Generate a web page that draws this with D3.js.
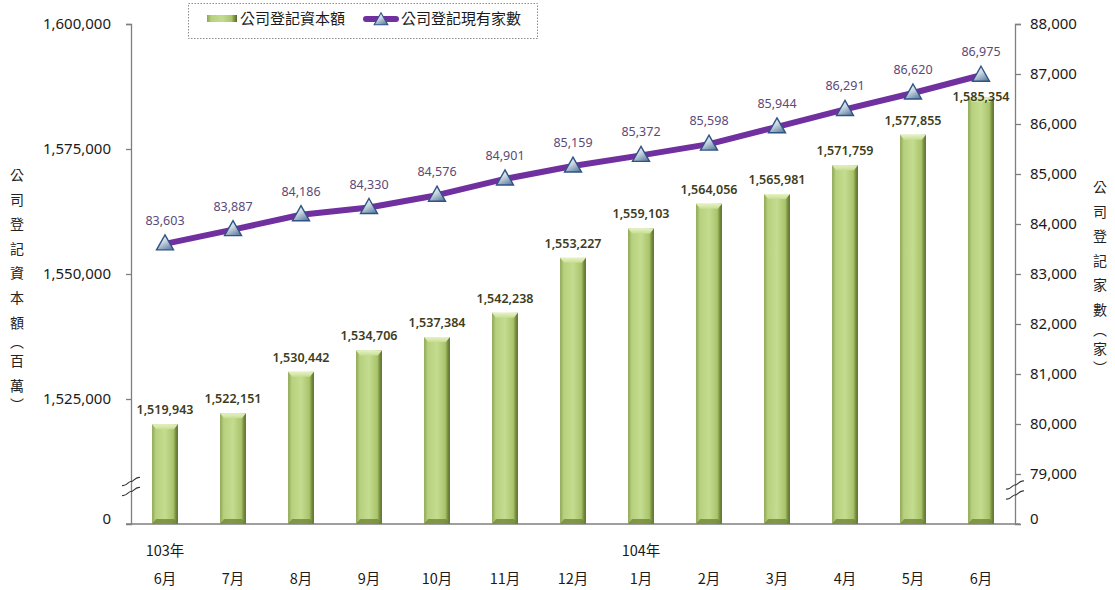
<!DOCTYPE html>
<html lang="zh-Hant">
<head>
<meta charset="utf-8">
<title>公司登記資本額與現有家數</title>
<script src="https://d3js.org/d3.v7.min.js"></script>
<style>
  body { margin: 0; background: #fff; }
  svg { display: block; font-family: "Noto Sans CJK TC", "Noto Sans", sans-serif; }
</style>
</head>
<body>
<div id="chart"></div>
<script>
// Data
const months = ["6月", "7月", "8月", "9月", "10月", "11月", "12月", "1月", "2月", "3月", "4月", "5月", "6月"];
const years = ["103年", "", "", "", "", "", "", "104年", "", "", "", "", ""];
const capital = [1519943, 1522151, 1530442, 1534706, 1537384, 1542238, 1553227, 1559103, 1564056, 1565981, 1571759, 1577855, 1585354];
const companies = [83603, 83887, 84186, 84330, 84576, 84901, 85159, 85372, 85598, 85944, 86291, 86620, 86975];
const leftTicks = [1500000, 1525000, 1550000, 1575000, 1600000];
const rightTicks = [78000, 79000, 80000, 81000, 82000, 83000, 84000, 85000, 86000, 87000, 88000];
const leftTitle = "公司登記資本額︵百萬︶";
const rightTitle = "公司登記家數︵家︶";
const legendLabels = ["公司登記資本額", "公司登記現有家數"];

// Dimensions
const W = 1115, H = 590;
const x0 = 131, x1 = 1015, yTop = 24, yBot = 524;

const svg = d3.select("#chart").append("svg")
  .attr("width", W).attr("height", H);

const defs = svg.append("defs");
const barGrad = defs.append("linearGradient").attr("id", "barGrad")
  .attr("x1", 0).attr("x2", 1).attr("y1", 0).attr("y2", 0);
[[0, "#8ba552"], [0.14, "#b7d07e"], [0.5, "#c4dc8f"], [0.82, "#aac46c"], [0.9, "#7f9844"], [1, "#55682a"]]
  .forEach(([o, c]) => barGrad.append("stop").attr("offset", o).attr("stop-color", c));
const capGrad = defs.append("linearGradient").attr("id", "capGrad")
  .attr("x1", 0).attr("x2", 0).attr("y1", 0).attr("y2", 1);
[[0, "#e6f2c4"], [1, "#c6dd92"]]
  .forEach(([o, c]) => capGrad.append("stop").attr("offset", o).attr("stop-color", c));
const triGrad = defs.append("linearGradient").attr("id", "triGrad")
  .attr("x1", 0.2).attr("x2", 0.8).attr("y1", 0).attr("y2", 1);
[[0, "#f4f7fa"], [0.45, "#c9d6e3"], [1, "#5d7c9c"]]
  .forEach(([o, c]) => triGrad.append("stop").attr("offset", o).attr("stop-color", c));

// Scales
const x = d3.scaleBand().domain(d3.range(months.length))
  .range([x0, x1]).paddingInner(0.62).paddingOuter(0.31);
const cx = i => x(i) + x.bandwidth() / 2;
const yL = d3.scaleLinear().domain([1500000, 1600000]).range([yBot, yTop]);
const yR = d3.scaleLinear().domain([78000, 88000]).range([yBot, yTop]);

// Axes
const leftAxis = svg.append("g").attr("transform", `translate(${x0},0)`)
  .call(d3.axisLeft(yL).tickValues(leftTicks).tickSize(5).tickPadding(15)
    .tickFormat(d => d === 1500000 ? "0" : d3.format(",")(d)));
const rightAxis = svg.append("g").attr("transform", `translate(${x1},0)`)
  .call(d3.axisRight(yR).tickValues(rightTicks).tickSize(6).tickPadding(9)
    .tickFormat(d => d === 78000 ? "0" : d3.format(",")(d)));
[leftAxis, rightAxis].forEach(g => {
  g.select(".domain").attr("stroke", "#7f7f7f").attr("stroke-width", 1.3);
  g.selectAll(".tick line").attr("stroke", "#7f7f7f").attr("stroke-width", 1.3);
  g.selectAll(".tick text").attr("font-size", 15).attr("fill", "#1a1a1a")
    .attr("font-family", "'Noto Sans', sans-serif");
  // the zero label sits a little above the base line
  g.selectAll(".tick").filter((d, i) => i === 0).select("text").attr("dy", "-0.05em");
  g.selectAll(".tick").filter((d, i) => i === 0).select("line").remove();
});

svg.append("line")
  .attr("x1", x0 - 5).attr("x2", x1 + 5).attr("y1", yBot).attr("y2", yBot)
  .attr("stroke", "#7f7f7f").attr("stroke-width", 1.3);

// Axis breaks
function breakMark(xc, yc) {
  const g = svg.append("g").attr("transform", `translate(${xc},${yc})`);
  [-5, 5].forEach(dy => {
    g.append("path")
      .attr("d", `M-9,${dy + 4} C-4,${dy + 5} -2,${dy - 1} 0,${dy} S4,${dy - 5} 9,${dy - 4}`)
      .attr("fill", "none").attr("stroke", "#333").attr("stroke-width", 1.1);
  });
}
breakMark(x0, yL(1507500));
breakMark(x1, yR(78680));

// Bars
const bars = svg.append("g").selectAll("g").data(capital).join("g")
  .attr("transform", (d, i) => `translate(${x(i)},${yL(d)})`);
bars.append("rect")
  .attr("width", x.bandwidth())
  .attr("height", d => yBot - yL(d))
  .attr("fill", "url(#barGrad)");
bars.append("path")
  .attr("d", () => {
    const w = x.bandwidth();
    return `M0,0 H${w} L${w - 4},5 H4 Z`;
  })
  .attr("fill", "url(#capGrad)");
bars.append("path")
  .attr("d", d => {
    const w = x.bandwidth(), h = yBot - yL(d);
    return `M0,${h} H${w} L${w - 4},${h - 5} H4 Z`;
  })
  .attr("fill", "#6f8737").attr("opacity", 0.8);

svg.append("g").selectAll("text").data(capital).join("text")
  .attr("x", (d, i) => cx(i))
  .attr("y", (d, i) => i === capital.length - 1 ? yL(d) + 4 : yL(d) - 10)
  .attr("text-anchor", "middle")
  .attr("font-size", 12.5)
  .attr("font-weight", 600)
  .attr("fill", "#3c3d1c")
  .attr("font-family", "'Noto Sans', sans-serif")
  .text(d => d3.format(",")(d));

// Line
const line = d3.line().x((d, i) => cx(i)).y(d => yR(d));
svg.append("path")
  .attr("d", line(companies))
  .attr("fill", "none")
  .attr("stroke", "#7030a0")
  .attr("stroke-width", 6)
  .attr("stroke-linejoin", "round");

const triangle = "M0,-9 L8.5,6 L-8.5,6 Z";
svg.append("g").selectAll("path").data(companies).join("path")
  .attr("transform", (d, i) => `translate(${cx(i)},${yR(d)})`)
  .attr("d", triangle)
  .attr("fill", "url(#triGrad)")
  .attr("stroke", "#2f5382")
  .attr("stroke-width", 1.4);

svg.append("g").selectAll("text").data(companies).join("text")
  .attr("x", (d, i) => cx(i))
  .attr("y", d => yR(d) - 19)
  .attr("text-anchor", "middle")
  .attr("font-size", 12.5)
  .attr("fill", "#5b4a78")
  .attr("font-family", "'Noto Sans', sans-serif")
  .text(d => d3.format(",")(d));

// X labels
svg.append("g").selectAll("text").data(years).join("text")
  .attr("x", (d, i) => cx(i)).attr("y", 556)
  .attr("text-anchor", "middle").attr("font-size", 14.5).attr("fill", "#1a1a1a")
  .text(d => d);
svg.append("g").selectAll("text").data(months).join("text")
  .attr("x", (d, i) => cx(i)).attr("y", 584)
  .attr("text-anchor", "middle").attr("font-size", 14.5).attr("fill", "#1a1a1a")
  .text(d => d);

// Vertical axis titles
function verticalTitle(str, xc, yStart) {
  let yy = yStart;
  const g = svg.append("g");
  Array.from(str).forEach(ch => {
    const bracket = ch === "︵" || ch === "︶";
    g.append("text")
      .attr("x", xc).attr("y", yy + (bracket ? 0 : 5))
      .attr("text-anchor", "middle").attr("font-size", 14).attr("fill", "#222")
      .text(ch);
    yy += bracket ? 14 : 24.6;
  });
}
verticalTitle(leftTitle, 17, 175);
verticalTitle(rightTitle, 1100, 187);

// Legend
const legend = svg.append("g");
legend.append("rect")
  .attr("x", 188.5).attr("y", 3.5).attr("width", 349).attr("height", 35)
  .attr("fill", "#fff").attr("stroke", "#8c8c8c").attr("stroke-dasharray", "1.5,1.5");
legend.append("rect")
  .attr("x", 207).attr("y", 15).attr("width", 30).attr("height", 7)
  .attr("fill", "url(#barGrad)");
legend.append("text")
  .attr("x", 240).attr("y", 24).attr("font-size", 15).attr("fill", "#1a1a1a")
  .text(legendLabels[0]);
legend.append("line")
  .attr("x1", 366).attr("x2", 396).attr("y1", 19).attr("y2", 19)
  .attr("stroke", "#7030a0").attr("stroke-width", 6).attr("stroke-linecap", "round");
legend.append("path")
  .attr("transform", "translate(381,20) scale(0.8)")
  .attr("d", triangle)
  .attr("fill", "url(#triGrad)").attr("stroke", "#2f5382").attr("stroke-width", 1.4);
legend.append("text")
  .attr("x", 401).attr("y", 24).attr("font-size", 15).attr("fill", "#1a1a1a")
  .text(legendLabels[1]);
</script>
</body>
</html>
